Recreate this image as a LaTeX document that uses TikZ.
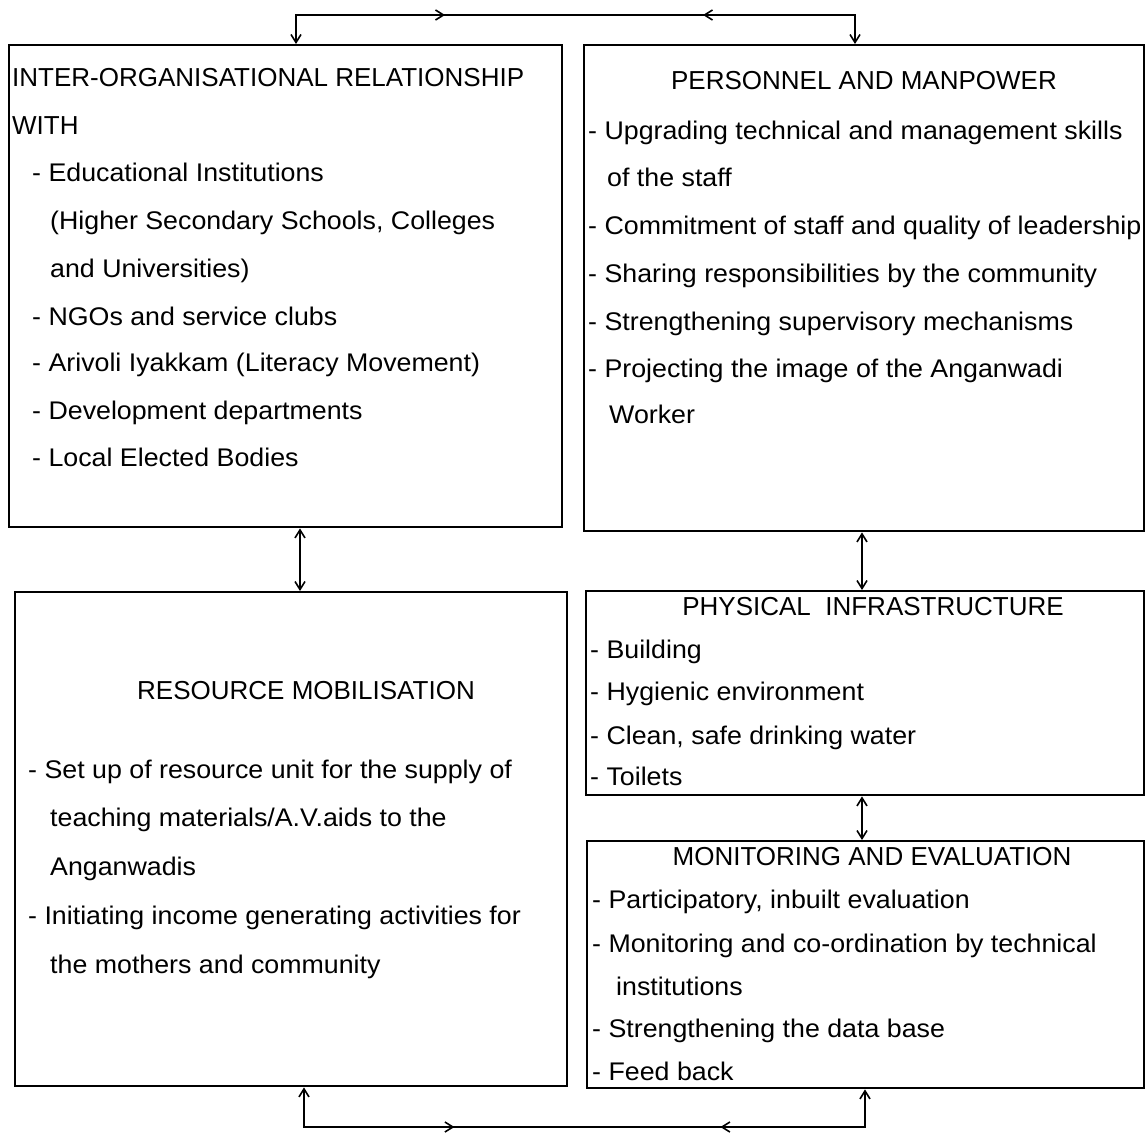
\documentclass[tikz,border=0pt]{standalone}
\usepackage{fontspec}
\setmainfont{Liberation Sans}
\newfontfamily\bodyfont[FakeStretch=1.05]{Liberation Sans}
\usetikzlibrary{arrows.meta,decorations.markings}
\begin{document}
\begin{tikzpicture}[x=1pt,y=-1pt,
  bt/.tip={Straight Barb[length=8pt,width=10pt]},
  box/.style={draw,line width=2.4pt,rectangle,inner sep=0pt,anchor=north west},
  txt/.style={anchor=base west,inner sep=0pt,font=\bodyfont\fontsize{25.5}{30}\selectfont},
  captxt/.style={anchor=base west,inner sep=0pt,font=\fontsize{26}{30}\selectfont},
  ttl/.style={anchor=base,inner sep=0pt,font=\fontsize{26}{30}\selectfont},
  conn/.style={line width=1.6pt,bt-bt}
]
\useasboundingbox (0,0) rectangle (1145,1133);

% boxes
\node[box,minimum width=553pt,minimum height=482pt] (A) at (8,44) {};
\node[box,minimum width=560pt,minimum height=486pt] (B) at (583,44) {};
\node[box,minimum width=552pt,minimum height=494pt] (C) at (14,591) {};
\node[box,minimum width=558pt,minimum height=204pt] (D) at (585,590) {};
\node[box,minimum width=557pt,minimum height=247pt] (E) at (586,840) {};

% box A text
\node[captxt] (a1) at (12,86) {INTER-ORGANISATIONAL RELATIONSHIP};
\node[captxt] (a2) at (12,134) {WITH};
\node[txt] (a3) at (32,181) {- Educational Institutions};
\node[txt] (a4) at (50,229) {(Higher Secondary Schools, Colleges};
\node[txt] (a5) at (50,277) {and Universities)};
\node[txt] (a6) at (32,325) {- NGOs and service clubs};
\node[txt] (a7) at (32,371) {- Arivoli Iyakkam (Literacy Movement)};
\node[txt] (a8) at (32,419) {- Development departments};
\node[txt] (a9) at (32,466) {- Local Elected Bodies};

% box B text
\node[ttl] (b1) at (864,89) {PERSONNEL AND MANPOWER};
\node[txt] (b2) at (588,139) {- Upgrading technical and management skills};
\node[txt] (b3) at (607,186) {of the staff};
\node[txt] (b4) at (588,234) {- Commitment of staff and quality of leadership};
\node[txt] (b5) at (588,282) {- Sharing responsibilities by the community};
\node[txt] (b6) at (588,330) {- Strengthening supervisory mechanisms};
\node[txt] (b7) at (588,377) {- Projecting the image of the Anganwadi};
\node[txt] (b8) at (609,423) {Worker};

% box C text
\node[ttl] (c1) at (306,699) {RESOURCE MOBILISATION};
\node[txt] (c2) at (28,778) {- Set up of resource unit for the supply of};
\node[txt] (c3) at (50,826) {teaching materials/A.V.aids to the};
\node[txt] (c4) at (50,875) {Anganwadis};
\node[txt] (c5) at (28,924) {- Initiating income generating activities for};
\node[txt] (c6) at (50,973) {the mothers and community};

% box D text
\node[ttl] (d1) at (873,615) {PHYSICAL\ \ INFRASTRUCTURE};
\node[txt] (d2) at (590,658) {- Building};
\node[txt] (d3) at (590,700) {- Hygienic environment};
\node[txt] (d4) at (590,744) {- Clean, safe drinking water};
\node[txt] (d5) at (590,785) {- Toilets};

% box E text
\node[ttl] (e1) at (872,865) {MONITORING AND EVALUATION};
\node[txt] (e2) at (592,908) {- Participatory, inbuilt evaluation};
\node[txt] (e3) at (592,952) {- Monitoring and co-ordination by technical};
\node[txt] (e4) at (616,995) {institutions};
\node[txt] (e5) at (592,1037) {- Strengthening the data base};
\node[txt] (e6) at (592,1080) {- Feed back};

% connectors
\coordinate (tl) at (296,15);
\coordinate (tr) at (855,15);
\draw[conn,postaction=decorate,decoration={markings,
    mark=at position 178pt with {\arrow{bt}},
    mark=at position 436pt with {\arrowreversed{bt}}}]
  (A.north -| tl) -- (tl) -- (tr) -- (B.north -| tr);

\coordinate (ac) at (300,0);
\draw[conn] (A.south -| ac) -- (C.north -| ac);

\coordinate (bd) at (862,0);
\draw[conn] (B.south -| bd) -- (D.north -| bd);
\draw[conn] (D.south -| bd) -- (E.north -| bd);

\coordinate (bl) at (304,1127);
\coordinate (br) at (865,1127);
\draw[conn,postaction=decorate,decoration={markings,
    mark=at position 190pt with {\arrow{bt}},
    mark=at position 456pt with {\arrowreversed{bt}}}]
  (C.south -| bl) -- (bl) -- (br) -- (E.south -| br);
\end{tikzpicture}
\end{document}
